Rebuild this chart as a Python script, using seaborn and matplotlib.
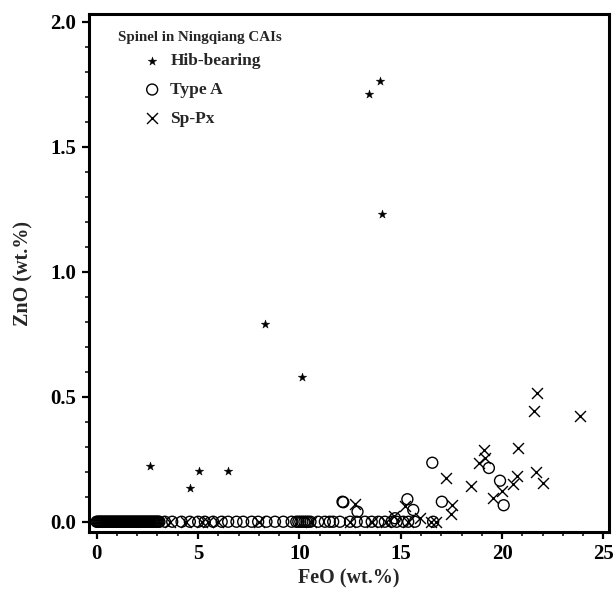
import matplotlib
matplotlib.use("Agg")
import matplotlib.pyplot as plt
import seaborn as sns
from matplotlib.ticker import MultipleLocator

# Hib-bearing spinel (stars)
hib_feo = [2.63, 4.6, 5.05, 6.48, 8.3, 10.13, 13.43, 13.97, 14.07]
hib_zno = [0.223, 0.135, 0.203, 0.203, 0.79, 0.579, 1.71, 1.762, 1.23]

# Type A spinel (open circles) - most sit on ZnO = 0
typea_zero_feo = [0.0, 0.05, 0.1, 0.15, 0.2, 0.25, 0.3, 0.35, 0.4, 0.45, 0.5, 0.55,
                  0.6, 0.65, 0.7, 0.75, 0.8, 0.85, 0.9, 0.95, 1.0, 1.05, 1.1, 1.15,
                  1.2, 1.25, 1.3, 1.35, 1.4, 1.45, 1.5, 1.55, 1.6, 1.65, 1.7, 1.75,
                  1.8, 1.85, 1.9, 1.95, 2.0, 2.05, 2.1, 2.15, 2.2, 2.25, 2.3, 2.35,
                  2.4, 2.45, 2.5, 2.55, 2.6, 2.65, 2.7, 2.75, 2.8, 2.85, 2.9, 2.95,
                  3.0, 3.05, 3.1,
                  3.37, 3.73, 4.19, 4.6, 5.01, 5.34, 5.75, 6.17, 6.49, 6.9, 7.23,
                  7.65, 7.97, 8.38, 8.8, 9.21, 9.62, 9.85, 9.95, 10.05, 10.15, 10.25,
                  10.35, 10.44, 10.55, 10.93, 11.26, 11.5, 11.67, 12.0, 12.5, 12.83,
                  13.24, 13.57, 13.9, 14.22, 14.55, 14.8, 15.13, 15.37, 15.7, 16.6]
typea_up_feo = [12.13, 12.17, 12.87, 14.72, 15.33, 15.62, 16.56, 17.03, 19.35,
                19.9, 20.08]
typea_up_zno = [0.08, 0.078, 0.04, 0.014, 0.09, 0.047, 0.236, 0.08, 0.215,
                0.164, 0.066]

# Sp-Px spinel (crosses)
sppx_feo = [21.72, 21.6, 23.83, 20.78, 19.09, 19.16, 18.88, 21.66, 20.72, 22.03,
            20.52, 20.0, 19.57, 18.45, 17.25, 17.51, 17.46, 15.21, 15.95, 12.76,
            14.67, 16.74, 16.5, 12.5, 13.57, 15.37, 14.3, 3.6, 4.4, 5.2, 5.5, 6.0,
            8.0, 10.6]
sppx_zno = [0.516, 0.443, 0.423, 0.294, 0.287, 0.255, 0.236, 0.2, 0.184, 0.154,
            0.151, 0.124, 0.094, 0.144, 0.176, 0.067, 0.03, 0.063, 0.016, 0.07,
            0.023, 0.0, 0.0, 0.0, 0.0, 0.0, 0.0, 0.0, 0.0, 0.0, 0.0, 0.0,
            0.0, 0.0]

typea_feo = typea_zero_feo + typea_up_feo
typea_zno = [0.0] * len(typea_zero_feo) + typea_up_zno

sns.set_style("ticks")
plt.rcParams['font.family'] = ['Liberation Serif', 'DejaVu Serif']
plt.rcParams['font.weight'] = 'bold'

fig = plt.figure(figsize=(6.13, 5.93), dpi=100)
ax = fig.add_axes([0.145, 0.1029, 0.8483, 0.8727])

sns.scatterplot(x=typea_feo, y=typea_zno, marker='o', s=62, facecolor='none',
                edgecolor='black', linewidth=1.0, ax=ax, label='Type A', zorder=2)
sns.scatterplot(x=sppx_feo, y=sppx_zno, marker='x', s=62, color='black',
                linewidth=1.0, ax=ax, label='Sp-Px', zorder=3)
sns.scatterplot(x=hib_feo, y=hib_zno, marker='*', s=42, color='black',
                edgecolor='black', linewidth=0.3, ax=ax, label='Hib-bearing', zorder=4)

ax.set_xlim(-0.38, 25.27)
ax.set_ylim(-0.041, 2.029)
ax.xaxis.set_major_locator(MultipleLocator(5))
ax.xaxis.set_minor_locator(MultipleLocator(1))
ax.yaxis.set_major_locator(MultipleLocator(0.5))
ax.yaxis.set_minor_locator(MultipleLocator(0.1))
ax.yaxis.set_major_formatter(plt.FormatStrFormatter('%.1f'))

for sp in ax.spines.values():
    sp.set_visible(True)
    sp.set_linewidth(2.2)
    sp.set_color('black')
ax.tick_params(which='major', direction='out', length=5, width=1.6,
               labelsize=15, pad=4, colors='black')
ax.tick_params(which='minor', direction='out', length=3, width=1.3)
for lab in ax.get_xticklabels() + ax.get_yticklabels():
    lab.set_fontweight('bold')

ax.set_xlabel('FeO (wt.%)', fontsize=14.5, fontweight='bold', labelpad=3)
ax.set_ylabel('ZnO (wt.%)', fontsize=14.5, fontweight='bold', labelpad=12)

h, l = ax.get_legend_handles_labels()
order = [2, 0, 1]
ax.legend([h[i] for i in order], [l[i] for i in order], loc='upper left',
          bbox_to_anchor=(0.105, 0.925), frameon=False,
          prop={'size': 12.5, 'weight': 'bold'}, handlelength=1.0,
          handletextpad=0.55, labelspacing=0.72, borderaxespad=0, borderpad=0)
ax.text(0.056, 0.956, 'Spinel in Ningqiang CAIs', transform=ax.transAxes,
        fontsize=10.8, fontweight='bold', va='center', ha='left')

fig.savefig('out.png', dpi=100)
